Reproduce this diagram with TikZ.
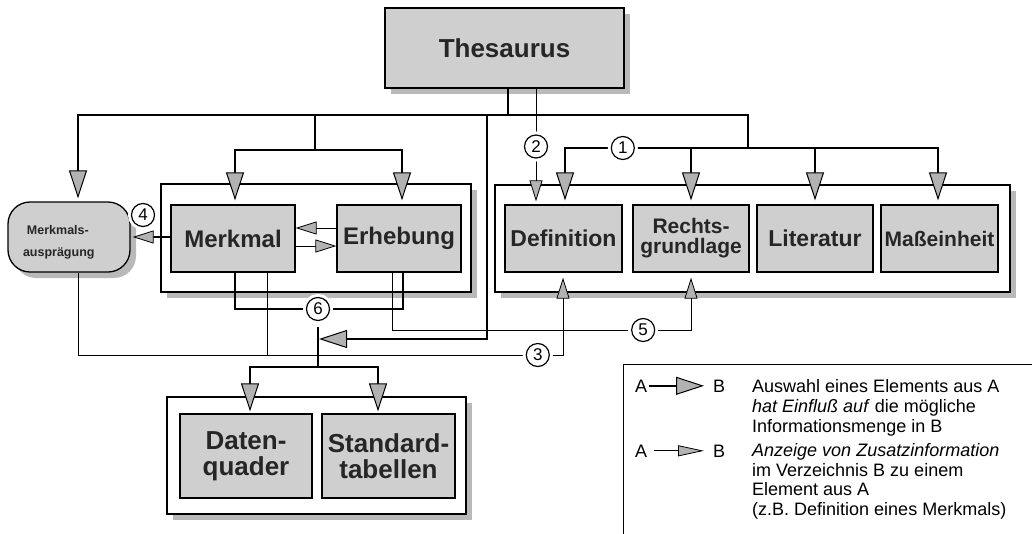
\documentclass[tikz,border=0pt]{standalone}
\usepackage{fontspec}
\setmainfont{Liberation Sans}
\usetikzlibrary{arrows.meta,shadows}
\newcommand\bfsz[2]{\bfseries\fontsize{#1}{#2}\selectfont}
\begin{document}
\begin{tikzpicture}[x=1pt,y=-1pt,
  shad/.style={drop shadow={shadow xshift=6pt,shadow yshift=-6pt,fill=gray!55,opacity=1}},
  box/.style={draw=black,line width=1.3pt,fill=gray!38,inner sep=0pt,text=black!85,align=center},
  frame/.style={draw=black,line width=1.2pt,fill=white,inner sep=0pt,shad},
  bus/.style={line width=2.6pt},
  thinl/.style={line width=1pt},
  medl/.style={line width=1.8pt},
  bigtip/.style={-{Triangle[length=28pt,width=18pt,fill=gray!60,line width=1pt]}},
  smalltip/.style={-{Triangle[length=21pt,width=13pt,fill=gray!60,line width=0.8pt]}},
  num/.style={circle,draw=black,line width=1.2pt,fill=white,inner sep=0pt,minimum size=23pt,
    font=\fontsize{17}{17}\selectfont,preaction={draw=white,line width=7pt}},
  lt/.style={inner sep=0pt,font=\fontsize{18}{20}\selectfont},
]
\useasboundingbox (0,0) rectangle (1032,533);

% ---- group frames
\node[frame,minimum width=310pt,minimum height=108pt] (g1) at (316,238) {};
\node[frame,minimum width=515pt,minimum height=107pt] (g2) at (752.5,238.5) {};
\node[frame,minimum width=299pt,minimum height=117pt] (g3) at (316.5,455.5) {};

% ---- boxes
\node[box,shad,minimum width=239pt,minimum height=80pt,font=\bfsz{26}{26}] (thes) at (504.5,48) {Thesaurus};
\node[box,shad,rounded corners=22pt,minimum width=122pt,minimum height=70pt,text width=92pt,align=left,font=\bfsz{12.5}{22}] (mausp) at (69,237) {\rule{0pt}{19pt}\hspace*{4pt}Merkmals-\\ausprägung};
\node[box,minimum width=124pt,minimum height=67pt,font=\bfsz{24}{24}] (merkmal) at (233,238.5) {Merkmal};
\node[box,minimum width=124pt,minimum height=67pt,font=\bfsz{24}{24}] (erheb) at (399,238.5) {Erhebung};
\node[box,minimum width=117pt,minimum height=67pt,font=\bfsz{23}{23}] (def) at (563.5,238.5) {Definition};
\node[box,minimum width=116pt,minimum height=67pt,font=\bfsz{21}{20}] (recht) at (691,238.5) {Rechts-\\grundlage};
\node[box,minimum width=116pt,minimum height=67pt,font=\bfsz{23}{23}] (lit) at (815,238.5) {Literatur};
\node[box,minimum width=117pt,minimum height=67pt,font=\bfsz{21}{21}] (mass) at (939.5,238.5) {Maßeinheit};
\node[box,minimum width=132pt,minimum height=84pt,font=\bfsz{26}{26}] (daten) at (246,456) {Daten-\\quader};
\node[box,minimum width=133pt,minimum height=84pt,font=\bfsz{26}{26}] (stand) at (388.5,456) {Standard-\\tabellen};

% ---- thick "influence" connectors
\draw[bus] (508,0 |- thes.south) -- (508,115);
\draw[bus,line cap=rect] (78,115) -- (748,115);
\draw[bus,bigtip,shorten >=3pt] (78,115) -- (78,0 |- mausp.north);
\draw[bus] (315,115) -- (315,150);
\draw[bus,line cap=rect] (235,150) -- (402,150);
\draw[bus,bigtip,shorten >=4pt] (235,150) -- (235,0 |- merkmal.north);
\draw[bus,bigtip,shorten >=4pt] (402,150) -- (402,0 |- erheb.north);
\draw[bus] (748,115) -- (748,148);
\draw[bus,line cap=rect] (565,148) -- node[num,pos=0.155] (n1) {1} (938,148);
\draw[bus,bigtip,shorten >=4pt] (565,148) -- (565,0 |- def.north);
\draw[bus,bigtip,shorten >=4pt] (691,148) -- (691,0 |- recht.north);
\draw[bus,bigtip,shorten >=4pt] (815,148) -- (815,0 |- lit.north);
\draw[bus,bigtip,shorten >=4pt] (938,148) -- (938,0 |- mass.north);
\draw[bus,bigtip,shorten >=1pt] (487,115) |- (318,339);
\draw[bus] (235,0 |- merkmal.south) |- node[num,pos=0.747] (n6) {6} (403,309) -- (403,0 |- erheb.south);
\draw[bus] ([yshift=-6pt]n6.south) -- (n6.south |- 0,367);
\draw[bus,line cap=rect] (250,367) -- (378,367);
\draw[bus,bigtip,shorten >=2pt] (250,367) -- (250,0 |- daten.north);
\draw[bus,bigtip,shorten >=2pt] (378,367) -- (378,0 |- stand.north);

% ---- thin "additional information" connectors
\draw[thinl,smalltip,shorten >=3pt] (536,0 |- thes.south) -- node[num,pos=0.5] (n2) {2} (536,0 |- def.north);
\draw[thinl,smalltip,shorten >=5pt] (78,0 |- mausp.south) |- node[num,pos=0.974] (n3) {3} (563,355) -- (563,0 |- def.south);
\draw[thinl] (267,0 |- merkmal.south) -- (267,355);
\draw[thinl,smalltip,shorten >=5pt] (392,0 |- erheb.south) |- node[num,pos=0.92] (n5) {5} (691,330) -- (691,0 |- recht.south);
\draw[medl,smalltip,shorten >=2pt] (merkmal.west |- 0,237) -- (mausp.east |- 0,237);
\node[num] (n4) at (143,215) {4};
\draw[thinl,smalltip] (erheb.west |- 0,228) -- (merkmal.east |- 0,228);
\draw[thinl,smalltip] (merkmal.east |- 0,246) -- (erheb.west |- 0,246);

% ---- legend
\draw[line width=1pt] (1034,364) -- (623,364) -- (623,535);
\node[lt,anchor=base west] (la1) at (635,392) {A};
\node[lt,anchor=base west] (lb1) at (713,392) {B};
\draw[bus,bigtip] ([xshift=2pt]la1.east) -- ([xshift=-9pt]lb1.west);
\node[lt,anchor=base west] (la2) at (635,457) {A};
\node[lt,anchor=base west] (lb2) at (713,457) {B};
\draw[thinl,-{Triangle[length=26pt,width=11pt,fill=gray!60,line width=0.8pt]}] ([xshift=7pt]la2.east) -- ([xshift=-9pt]lb2.west);
\node[lt,anchor=base west,align=left] (t1) at (752,432) {Auswahl eines Elements aus A\\\textit{hat Einfluß auf} die mögliche\\Informationsmenge in B};
\node[lt,anchor=base west,align=left,font=\fontsize{18}{19.4}\selectfont] (t2) at (752,515) {\textit{Anzeige von Zusatzinformation}\\im Verzeichnis B zu einem\\Element aus A\\(z.B. Definition eines Merkmals)};
\end{tikzpicture}
\end{document}
